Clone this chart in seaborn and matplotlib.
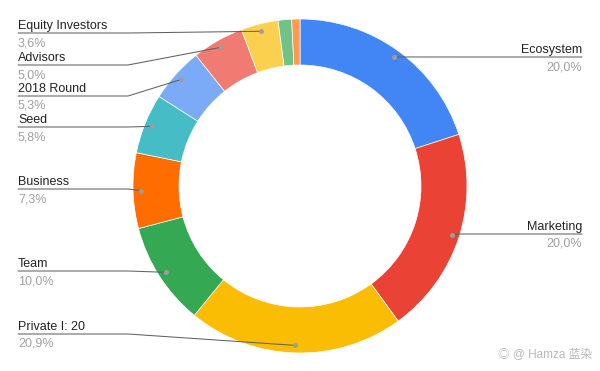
import numpy as np
import matplotlib.pyplot as plt
import seaborn as sns

# ---- data ----
categories = ['Ecosystem', 'Marketing', 'Private I: 20', 'Team', 'Business',
              'Seed', '2018 Round', 'Advisors', 'Equity Investors', '', '']
shares = [20.0, 20.0, 20.9, 10.0, 7.3, 5.8, 5.3, 5.0, 3.6, 1.3, 0.8]
colors = ['#4285f4', '#ea4335', '#fbbc04', '#34a853', '#ff6d01', '#46bdc6',
          '#7baaf7', '#f07b72', '#fcd04f', '#71c287', '#ff994d']

# label layout (pixel rows of the name text, None = no label)
label_side = ['right', 'right', 'left', 'left', 'left', 'left', 'left', 'left', 'left', None, None]
label_y = [50, 227, 327, 264, 182, 120, 89, 58, 26, None, None]

sns.set_style('white')
plt.rcParams['font.family'] = ['Liberation Sans', 'Noto Sans CJK SC', 'DejaVu Sans']

H = 371
cx, cy, R = 300, H - 186, 167

fig = plt.figure(figsize=(6, 3.71), dpi=100)
ax = fig.add_axes([0, 0, 1, 1])
wedges, _ = ax.pie(shares, colors=colors, startangle=90, counterclock=False,
                   center=(cx, cy), radius=R,
                   wedgeprops=dict(width=46, edgecolor='white', linewidth=0.5))
ax.set_xlim(0, 600)
ax.set_ylim(0, H)
ax.set_aspect('auto')
ax.axis('off')

line_c = '#616161'
for w, name, val, side, ny in zip(wedges, categories, shares, label_side, label_y):
    if side is None:
        continue
    mid = np.deg2rad((w.theta1 + w.theta2) / 2)
    dx, dy = cx + 0.955 * R * np.cos(mid), cy + 0.955 * R * np.sin(mid)
    ly = H - (ny + 7)
    pct = f'{val:.1f}%'.replace('.', ',')
    if side == 'left':
        ax.plot([18, 128, dx], [ly, ly, dy], color=line_c, lw=0.75, zorder=3)
        ax.text(18, H - ny, name, ha='left', va='center', fontsize=9, color='#222222')
        ax.text(18, H - ny - 17, pct, ha='left', va='center', fontsize=9, color='#a0a0a0')
    else:
        ax.plot([582, 460, dx], [ly, ly, dy], color=line_c, lw=0.75, zorder=3)
        ax.text(582, H - ny, name, ha='right', va='center', fontsize=9, color='#222222')
        ax.text(582, H - ny - 17, pct, ha='right', va='center', fontsize=9, color='#a0a0a0')
    ax.plot(dx, dy, 'o', ms=2.5, color='#9e9e9e', zorder=4)

ax.text(592, H - 354, '◎ @ Hamza 蓝染', ha='right', va='center', fontsize=8.5, color='#b8b8b8')

fig.savefig('out.png', dpi=100)
